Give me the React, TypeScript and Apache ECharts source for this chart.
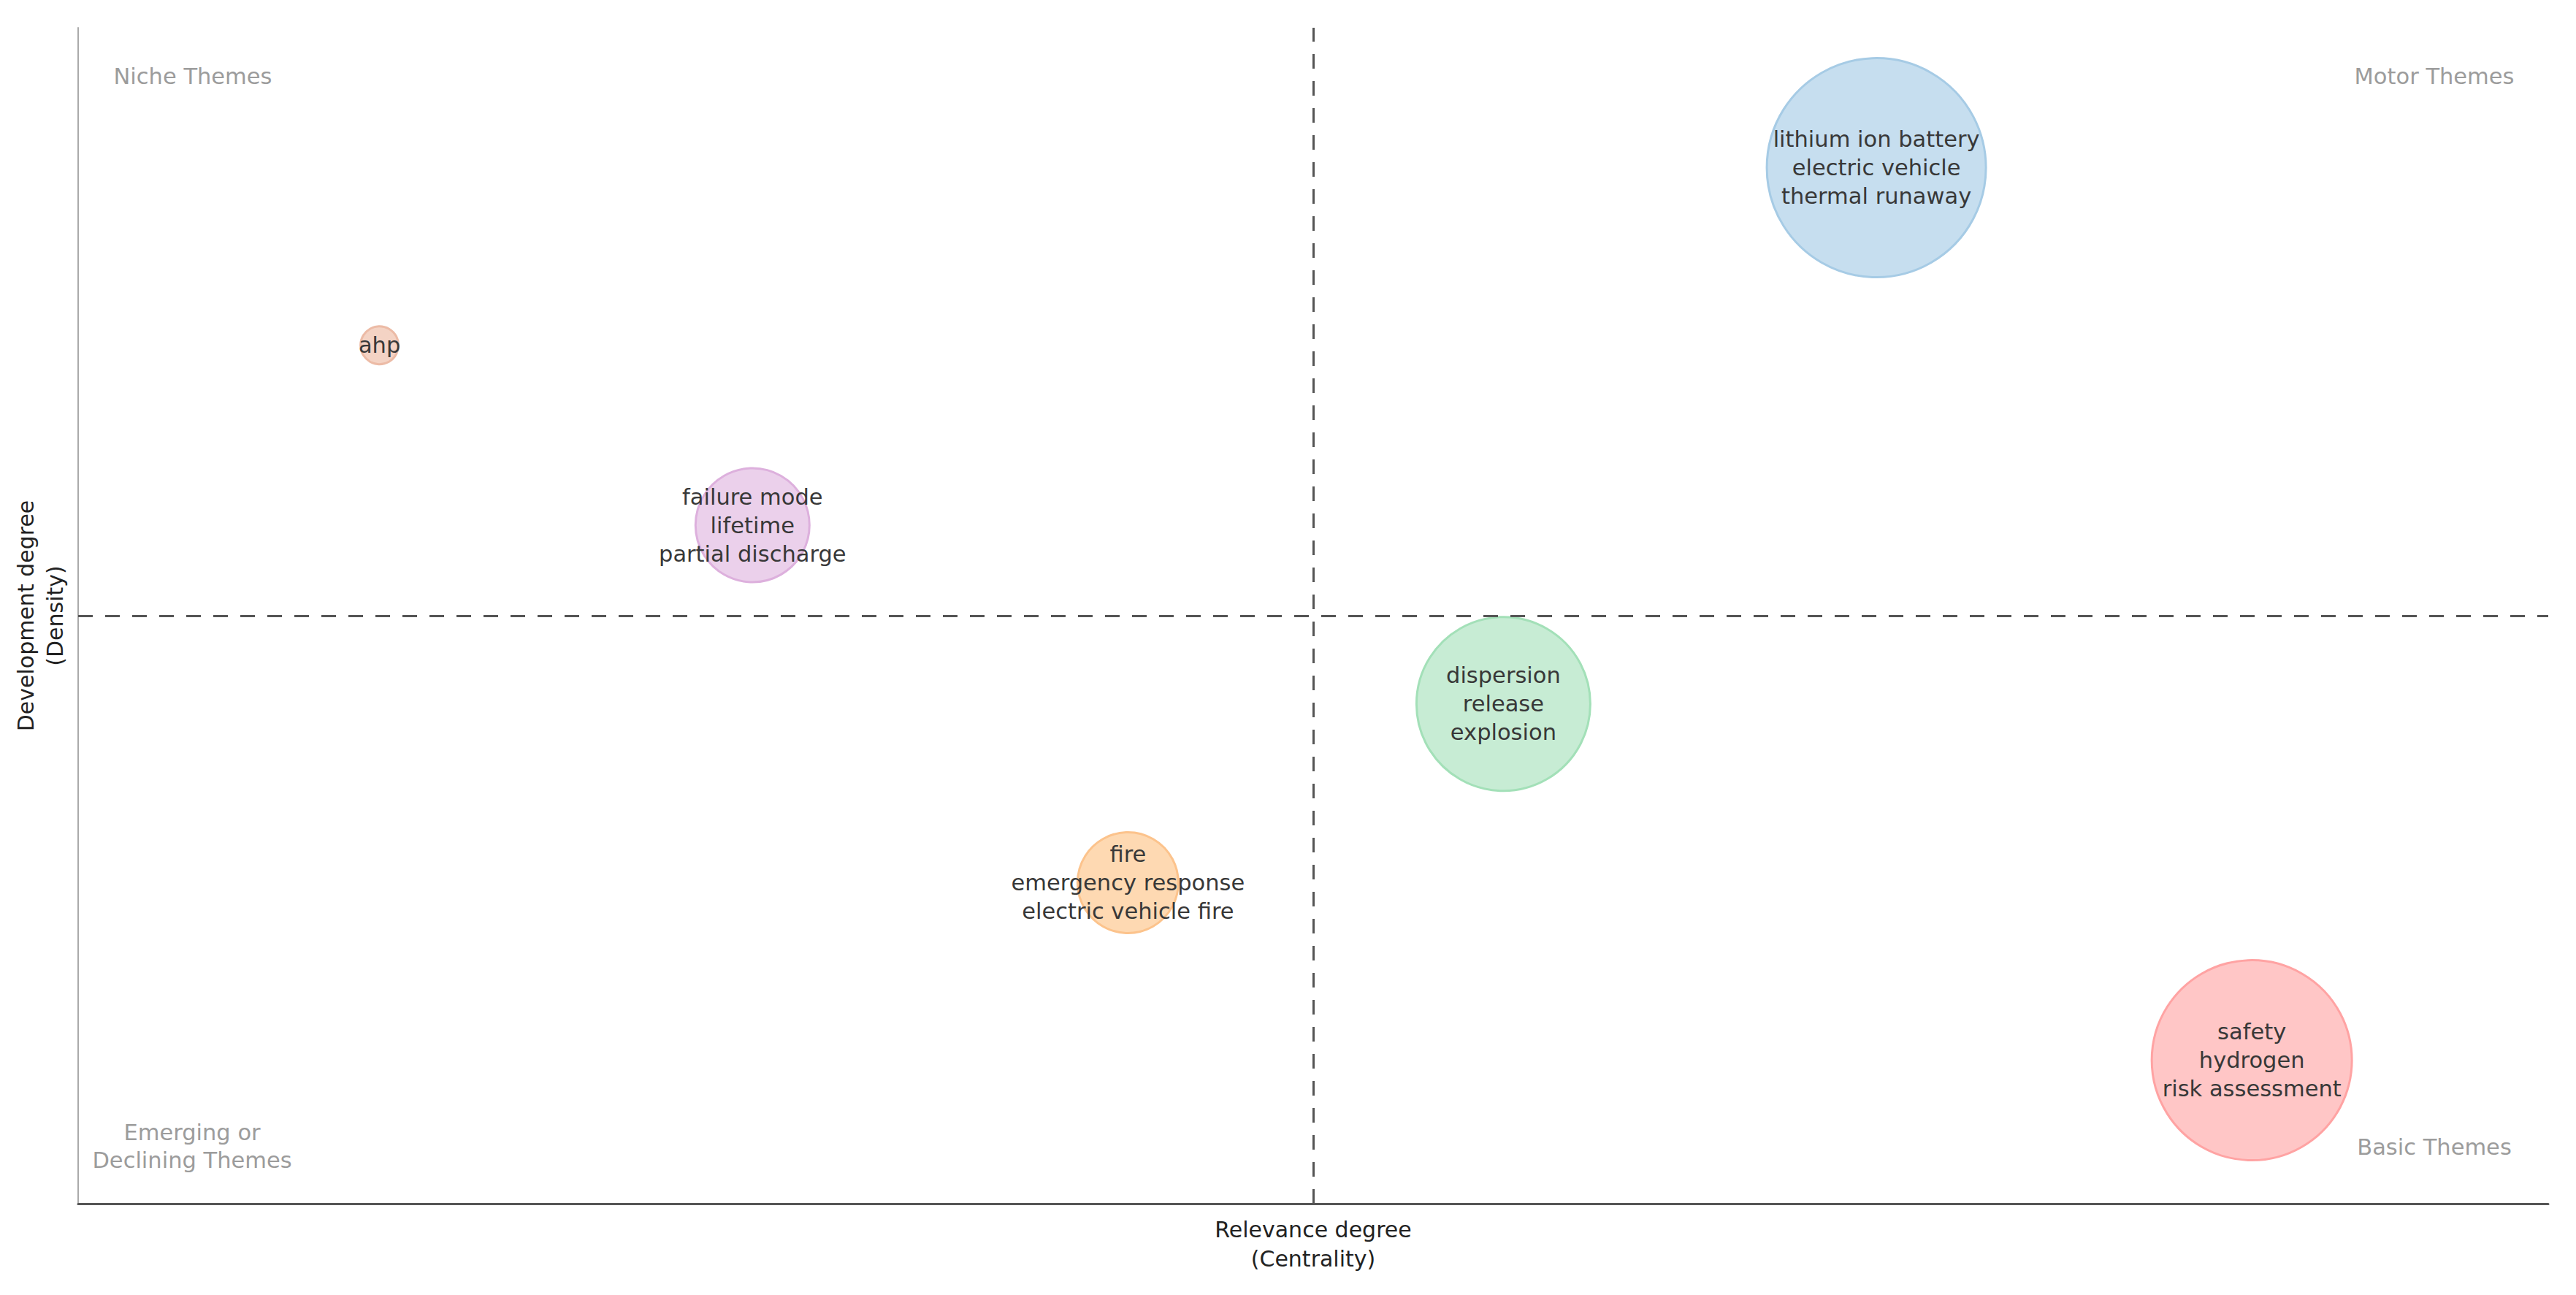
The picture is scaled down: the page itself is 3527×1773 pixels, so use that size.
import React, { useEffect, useRef } from "react";
import * as echarts from "echarts";

// ---- data ----
const themeLabels = [
  "lithium ion battery\nelectric vehicle\nthermal runaway",
  "ahp",
  "failure mode\nlifetime\npartial discharge",
  "fire\nemergency response\nelectric vehicle fire",
  "dispersion\nrelease\nexplosion",
  "safety\nhydrogen\nrisk assessment",
];
const centrality = [72.8, 12.2, 27.3, 42.5, 57.7, 88.0];
const density = [88.1, 73.0, 57.7, 27.3, 42.5, 12.2];
const clusterFrequency = [300, 52, 156, 138, 238, 274];
const quadrantNames = ["Niche Themes", "Motor Themes", "Emerging or\nDeclining Themes", "Basic Themes"];
const xAxisName = "Relevance degree\n(Centrality)";
const yAxisName = "Development degree\n(Density)";
const axisMin = 0;
const axisMax = 100;
const axisCenter = 50;

// ---- styles ----
const fills = ["#c6deef", "#f4d3c4", "#ebd0eb", "#fed9b2", "#c7ecd4", "#ffc6c6"];
const borders = ["#a6cbe5", "#ecbba6", "#ddb0dd", "#fcc38c", "#a3e0b8", "#ffa3a3"];
const FONT = "DejaVu Sans";

export default function App() {
  const ref = useRef<HTMLDivElement>(null);
  useEffect(() => {
    if (!ref.current) return;
    const chart = echarts.init(ref.current, undefined, { renderer: "svg" });
    const quadText = (text: string, x: number, y: number) => ({
      type: "text",
      x,
      y,
      silent: true,
      style: {
        text,
        fill: "#9c9c9c",
        fontSize: 30.5,
        fontFamily: FONT,
        lineHeight: 38,
        align: "center",
        verticalAlign: "middle",
      },
    });
    chart.setOption({
      animation: false,
      backgroundColor: "#ffffff",
      textStyle: { fontFamily: FONT },
      grid: { left: 107, right: 38, top: 38, bottom: 125, containLabel: false },
      xAxis: {
        type: "value",
        min: axisMin,
        max: axisMax,
        interval: axisCenter,
        name: xAxisName,
        nameLocation: "middle",
        nameGap: 15,
        nameTextStyle: { color: "#222", fontSize: 30, lineHeight: 40, fontFamily: FONT, verticalAlign: "top" },
        axisLine: { show: true, onZero: false, lineStyle: { color: "#555", width: 3 } },
        axisTick: { show: true, inside: true, length: 18, customValues: [axisCenter], lineStyle: { color: "#555", width: 3 } },
        axisLabel: { show: false },
        splitLine: { show: false },
      },
      yAxis: {
        type: "value",
        min: axisMin,
        max: axisMax,
        interval: axisCenter,
        name: yAxisName,
        nameLocation: "middle",
        nameRotate: 90,
        nameGap: 12,
        nameTextStyle: { color: "#222", fontSize: 30, lineHeight: 40, fontFamily: FONT },
        axisLine: { show: true, onZero: false, lineStyle: { color: "#aaa", width: 2 } },
        axisTick: { show: true, inside: true, length: 18, customValues: [axisCenter], lineStyle: { color: "#888", width: 2 } },
        axisLabel: { show: false },
        splitLine: { show: false },
      },
      graphic: [
        quadText(quadrantNames[0], 264, 104),
        quadText(quadrantNames[1], 3333, 104),
        quadText(quadrantNames[2], 263, 1569),
        quadText(quadrantNames[3], 3333, 1570),
      ],
      series: [
        {
          type: "scatter",
          symbol: "circle",
          symbolSize: (v: number[]) => v[2],
          data: centrality.map((x, i) => ({
            value: [x, density[i], clusterFrequency[i]],
            name: themeLabels[i],
            itemStyle: { color: fills[i], borderColor: borders[i], borderWidth: 3, opacity: 1 },
          })),
          label: {
            show: true,
            position: "inside",
            formatter: "{b}",
            color: "#383838",
            fontSize: 30.5,
            lineHeight: 39,
            fontFamily: FONT,
          },
          labelLayout: { hideOverlap: false },
          emphasis: { disabled: true },
          markLine: {
            silent: true,
            symbol: ["none", "none"],
            label: { show: false },
            lineStyle: { color: "#555", width: 3, type: [20, 17] },
            data: [{ xAxis: axisCenter }, { yAxis: axisCenter }],
          },
        },
      ],
    });
    return () => chart.dispose();
  }, []);
  return (
    <div
      ref={ref}
      style={{ position: "fixed", left: 0, top: 0, width: 3527, height: 1773, background: "#fff" }}
    />
  );
}
